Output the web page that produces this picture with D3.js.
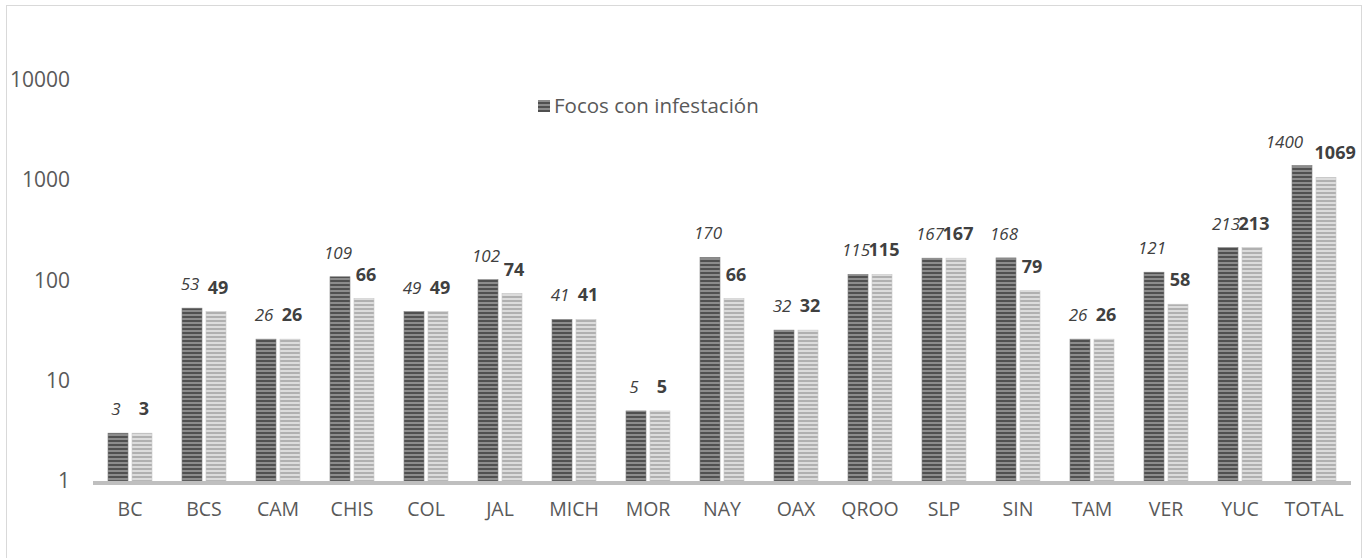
<!DOCTYPE html>
<html>
<head>
<meta charset="utf-8">
<script src="https://cdn.jsdelivr.net/npm/d3@7"></script>
<style>
  body { margin: 0; background: #fff; }
  svg { display: block; font-family: "Open Sans", "Liberation Sans", sans-serif; }
</style>
</head>
<body>
<svg width="1368" height="558"></svg>
<script>
var states = ["BC", "BCS", "CAM", "CHIS", "COL", "JAL", "MICH", "MOR", "NAY", "OAX", "QROO", "SLP", "SIN", "TAM", "VER", "YUC", "TOTAL"];
var focosInfestacion = [3, 53, 26, 109, 49, 102, 41, 5, 170, 32, 115, 167, 168, 26, 121, 213, 1400];
var focosSegundo = [3, 49, 26, 66, 49, 74, 41, 5, 66, 32, 115, 167, 79, 26, 58, 213, 1069];
var yTicks = [1, 10, 100, 1000, 10000];
var legendLabel = "Focos con infestación";

var svg = d3.select("svg"),
    margin = { top: 80, right: 17, bottom: 77, left: 93 },
    width = 1368 - margin.left - margin.right,
    height = 558 - margin.top - margin.bottom;

// chart frame (the title sits above the visible area)
svg.append("rect")
    .attr("x", 6.5).attr("y", 5.5)
    .attr("width", 1355).attr("height", 600)
    .attr("fill", "none").attr("stroke", "#d9d9d9");

// striped fills
var defs = svg.append("defs");
function stripes(id, dark, light) {
    var p = defs.append("pattern")
        .attr("id", id)
        .attr("patternUnits", "userSpaceOnUse")
        .attr("width", 8).attr("height", 4);
    p.append("rect").attr("width", 8).attr("height", 4).attr("fill", light);
    p.append("rect").attr("width", 8).attr("height", 2).attr("fill", dark);
}
stripes("stripeDark", "#505050", "#8c8c8c");
stripes("stripeLight", "#b0b0b0", "#dcdcdc");

var g = svg.append("g").attr("transform", "translate(" + margin.left + "," + margin.top + ")");

var x = d3.scaleBand().domain(states).range([0, width]);
var y = d3.scaleLog().domain([1, 10000]).range([height, 0]);

var barW = 20, gap = 4;

var data = states.map(function (s, i) {
    return { state: s, a: focosInfestacion[i], b: focosSegundo[i] };
});

// y axis labels
g.append("g")
    .call(d3.axisLeft(y).tickValues(yTicks).tickFormat(d3.format("d")).tickSize(0).tickPadding(23))
    .call(function (ax) { ax.select(".domain").remove(); })
    .selectAll("text")
    .attr("fill", "#595959")
    .style("font-size", "21px")
    .style("font-family", "Open Sans, Liberation Sans, sans-serif");

var groups = g.selectAll(".grp")
    .data(data)
    .enter().append("g")
    .attr("class", "grp")
    .attr("transform", function (d) { return "translate(" + (x(d.state) + x.bandwidth() / 2) + ",0)"; });

groups.append("rect")
    .attr("x", -barW - gap / 2)
    .attr("width", barW)
    .attr("y", function (d) { return y(d.a); })
    .attr("height", function (d) { return height - y(d.a); })
    .attr("fill", "url(#stripeDark)")
    .attr("stroke", "#7f7f7f").attr("stroke-width", 0.6);

groups.append("rect")
    .attr("x", gap / 2)
    .attr("width", barW)
    .attr("y", function (d) { return y(d.b); })
    .attr("height", function (d) { return height - y(d.b); })
    .attr("fill", "url(#stripeLight)")
    .attr("stroke", "#c8c8c8").attr("stroke-width", 0.6);

groups.append("text")
    .attr("class", "lab-a")
    .attr("x", -barW / 2 - gap / 2 - 2)
    .attr("y", function (d) { return y(d.a) - 18; })
    .attr("text-anchor", "middle")
    .attr("fill", "#404040")
    .style("font-style", "italic")
    .style("font-size", "17px")
    .text(function (d) { return d.a; });

groups.append("text")
    .attr("class", "lab-b")
    .attr("x", barW / 2 + gap / 2 + 2)
    .attr("y", function (d) { return y(d.b) - 18; })
    .attr("text-anchor", "middle")
    .attr("fill", "#404040")
    .style("font-weight", "bold")
    .style("font-size", "18px")
    .text(function (d) { return d.b; });

// push apart label pairs that collide badly
groups.each(function () {
    var ta = d3.select(this).select(".lab-a"), tb = d3.select(this).select(".lab-b");
    var ba = ta.node().getBBox(), bb = tb.node().getBBox();
    var overlap = (ba.x + ba.width) - bb.x;
    var vert = Math.abs(ba.y - bb.y) < ba.height;
    if (vert && overlap > 8) {
        ta.attr("x", +ta.attr("x") - overlap * 1.3);
        tb.attr("x", +tb.attr("x") + overlap * 0.6);
    }
});

// x axis
g.append("line")
    .attr("x1", 0).attr("x2", width)
    .attr("y1", height + 2).attr("y2", height + 2)
    .attr("stroke", "#bfbfbf").attr("stroke-width", 4);

g.append("g")
    .attr("transform", "translate(0," + height + ")")
    .call(d3.axisBottom(x).tickSize(0).tickPadding(21))
    .call(function (ax) { ax.select(".domain").remove(); })
    .selectAll("text")
    .attr("fill", "#595959")
    .style("font-size", "19.5px")
    .style("font-family", "Open Sans, Liberation Sans, sans-serif");

// legend
var legend = svg.append("g").attr("transform", "translate(538,106)");
legend.append("rect")
    .attr("x", 0).attr("y", -6).attr("width", 12).attr("height", 12)
    .attr("fill", "url(#stripeDark)");
legend.append("text")
    .attr("x", 16).attr("dy", "0.35em")
    .attr("fill", "#595959")
    .style("font-size", "20.5px")
    .text(legendLabel);
</script>
</body>
</html>
